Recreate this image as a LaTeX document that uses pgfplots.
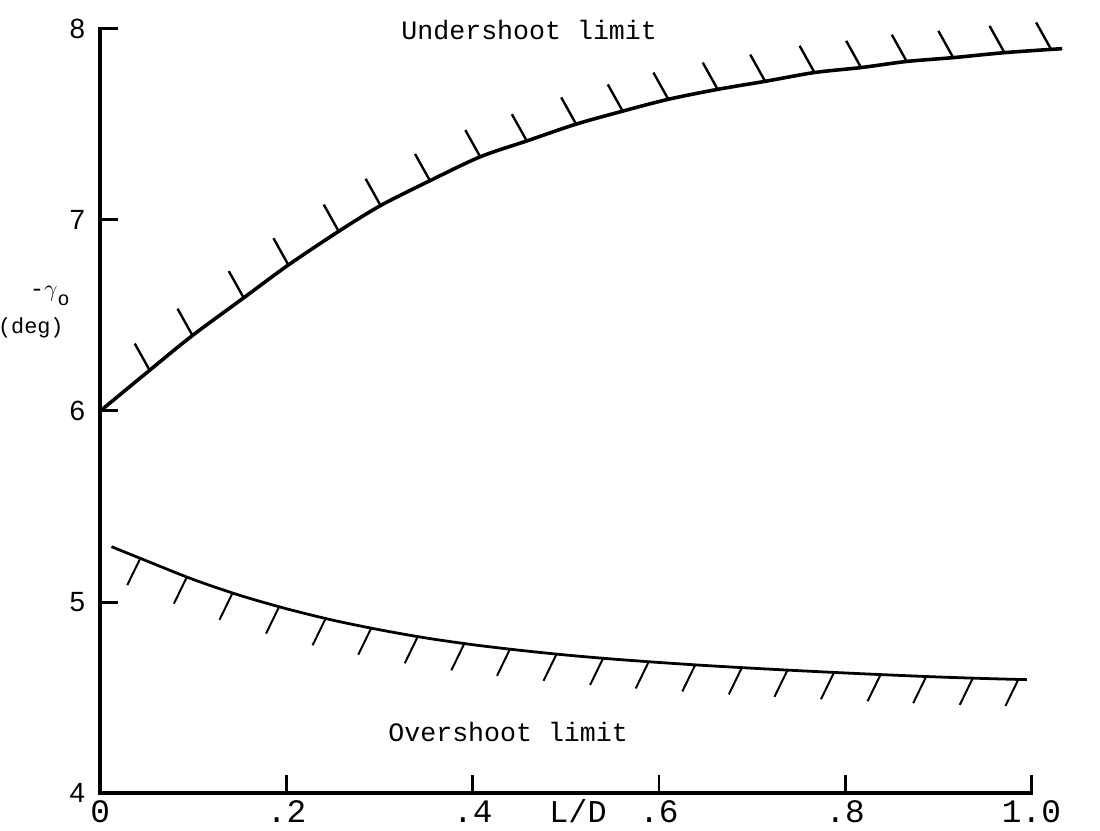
\documentclass[border=0pt]{standalone}
\usepackage{fontspec}
\setmainfont{Liberation Mono}
\newfontfamily\lsans{Liberation Sans}
\usepackage{pgfplots}
\pgfplotsset{compat=1.18}
\begin{document}
\begin{tikzpicture}
\begin{axis}[
 scale only axis, width=469pt, height=385pt,
 xmin=0, xmax=1, ymin=4, ymax=8,
 clip=false,
 axis lines=left,
 axis line style={-, line width=2pt, line cap=rect},
 xtick={0,0.2,0.4,0.6,0.8,1.0},
 xticklabels={0,.2,.4,.6,.8,1.0},
 ytick={4,5,6,7,8},
 yticklabels={4,5,6,7,8},
 tick align=inside,
 major tick length=9pt,
 major tick style={line width=1.5pt, black},
 xticklabel style={font=\fontsize{16.5}{18}\selectfont, anchor=north, inner sep=0pt, yshift=-3.5pt},
 yticklabel style={font=\lsans\fontsize{14}{16}\selectfont, anchor=east, inner sep=0pt, xshift=-7.5pt},
 /pgf/number format/assume math mode=true,
 unbounded coords=jump,
]
% upper limit curve
\addplot[black, line width=1.8pt, smooth, tension=0.5] coordinates {
(0,6.0) (0.053,6.213) (0.099,6.395) (0.154,6.592) (0.202,6.764) (0.256,6.940)
(0.301,7.075) (0.354,7.205) (0.408,7.330) (0.458,7.413) (0.511,7.501) (0.561,7.569)
(0.610,7.631) (0.663,7.683) (0.714,7.725) (0.767,7.771) (0.817,7.797) (0.866,7.829)
(0.916,7.849) (0.971,7.875) (1.033,7.896)};
% upper hatches
\addplot[black, line width=1.2pt] coordinates {
(0.053,6.213) (0.037,6.353) (nan,nan)
(0.099,6.395) (0.083,6.535) (nan,nan)
(0.154,6.592) (0.138,6.732) (nan,nan)
(0.202,6.764) (0.186,6.904) (nan,nan)
(0.256,6.940) (0.240,7.080) (nan,nan)
(0.301,7.075) (0.285,7.215) (nan,nan)
(0.354,7.205) (0.338,7.345) (nan,nan)
(0.408,7.330) (0.392,7.470) (nan,nan)
(0.458,7.413) (0.442,7.553) (nan,nan)
(0.511,7.501) (0.495,7.641) (nan,nan)
(0.561,7.569) (0.545,7.709) (nan,nan)
(0.610,7.631) (0.594,7.771) (nan,nan)
(0.663,7.683) (0.647,7.823) (nan,nan)
(0.714,7.725) (0.698,7.865) (nan,nan)
(0.767,7.771) (0.751,7.911) (nan,nan)
(0.817,7.797) (0.801,7.937) (nan,nan)
(0.866,7.829) (0.850,7.969) (nan,nan)
(0.916,7.849) (0.900,7.989) (nan,nan)
(0.971,7.875) (0.955,8.015) (nan,nan)
(1.021,7.893) (1.005,8.033)};
% lower limit curve
\addplot[black, line width=1.4pt, smooth, tension=0.5] coordinates {
(0.012,5.290) (0.05,5.215) (0.10,5.118) (0.15,5.035) (0.20,4.965) (0.25,4.905)
(0.30,4.855) (0.35,4.812) (0.40,4.777) (0.45,4.748) (0.50,4.723) (0.55,4.702)
(0.60,4.684) (0.65,4.668) (0.70,4.654) (0.75,4.641) (0.80,4.629) (0.85,4.618)
(0.90,4.608) (0.95,4.600) (0.995,4.594)};
% lower hatches
\addplot[black, line width=1.0pt] coordinates {
(0.043,5.229) (0.029,5.089) (nan,nan)
(0.093,5.131) (0.079,4.991) (nan,nan)
(0.142,5.047) (0.128,4.907) (nan,nan)
(0.192,4.975) (0.178,4.835) (nan,nan)
(0.242,4.914) (0.228,4.774) (nan,nan)
(0.291,4.864) (0.277,4.724) (nan,nan)
(0.341,4.820) (0.327,4.680) (nan,nan)
(0.391,4.783) (0.377,4.643) (nan,nan)
(0.440,4.754) (0.426,4.614) (nan,nan)
(0.490,4.728) (0.476,4.588) (nan,nan)
(0.540,4.706) (0.526,4.566) (nan,nan)
(0.589,4.688) (0.575,4.548) (nan,nan)
(0.639,4.672) (0.625,4.532) (nan,nan)
(0.689,4.657) (0.675,4.517) (nan,nan)
(0.738,4.644) (0.724,4.504) (nan,nan)
(0.788,4.632) (0.774,4.492) (nan,nan)
(0.838,4.621) (0.824,4.481) (nan,nan)
(0.887,4.611) (0.873,4.471) (nan,nan)
(0.937,4.602) (0.923,4.462) (nan,nan)
(0.986,4.596) (0.972,4.456)};
\node[font=\fontsize{13.4}{15}\selectfont] at (axis cs:0.4606,7.995) {Undershoot limit};
\node[font=\fontsize{13.4}{15}\selectfont] at (axis cs:0.438,4.322) {Overshoot limit};
\node[font=\fontsize{16}{18}\selectfont, anchor=base] at (axis cs:0.513,3.845) {L/D};
\node[font=\fontsize{12}{14}\selectfont] at (axis cs:-0.0544,6.600) {-$\gamma$\raisebox{-0.7ex}{\fontsize{10}{11}\selectfont o}};
\node[font=\fontsize{11}{13}\selectfont] at (axis cs:-0.0746,6.436) {(deg)};
\coordinate (bbsw) at (axis cs:-0.1077,3.8026);
\coordinate (bbne) at (axis cs:1.0736,8.1506);
\end{axis}
\pgfresetboundingbox
\useasboundingbox (bbsw) rectangle (bbne);
\end{tikzpicture}
\end{document}
